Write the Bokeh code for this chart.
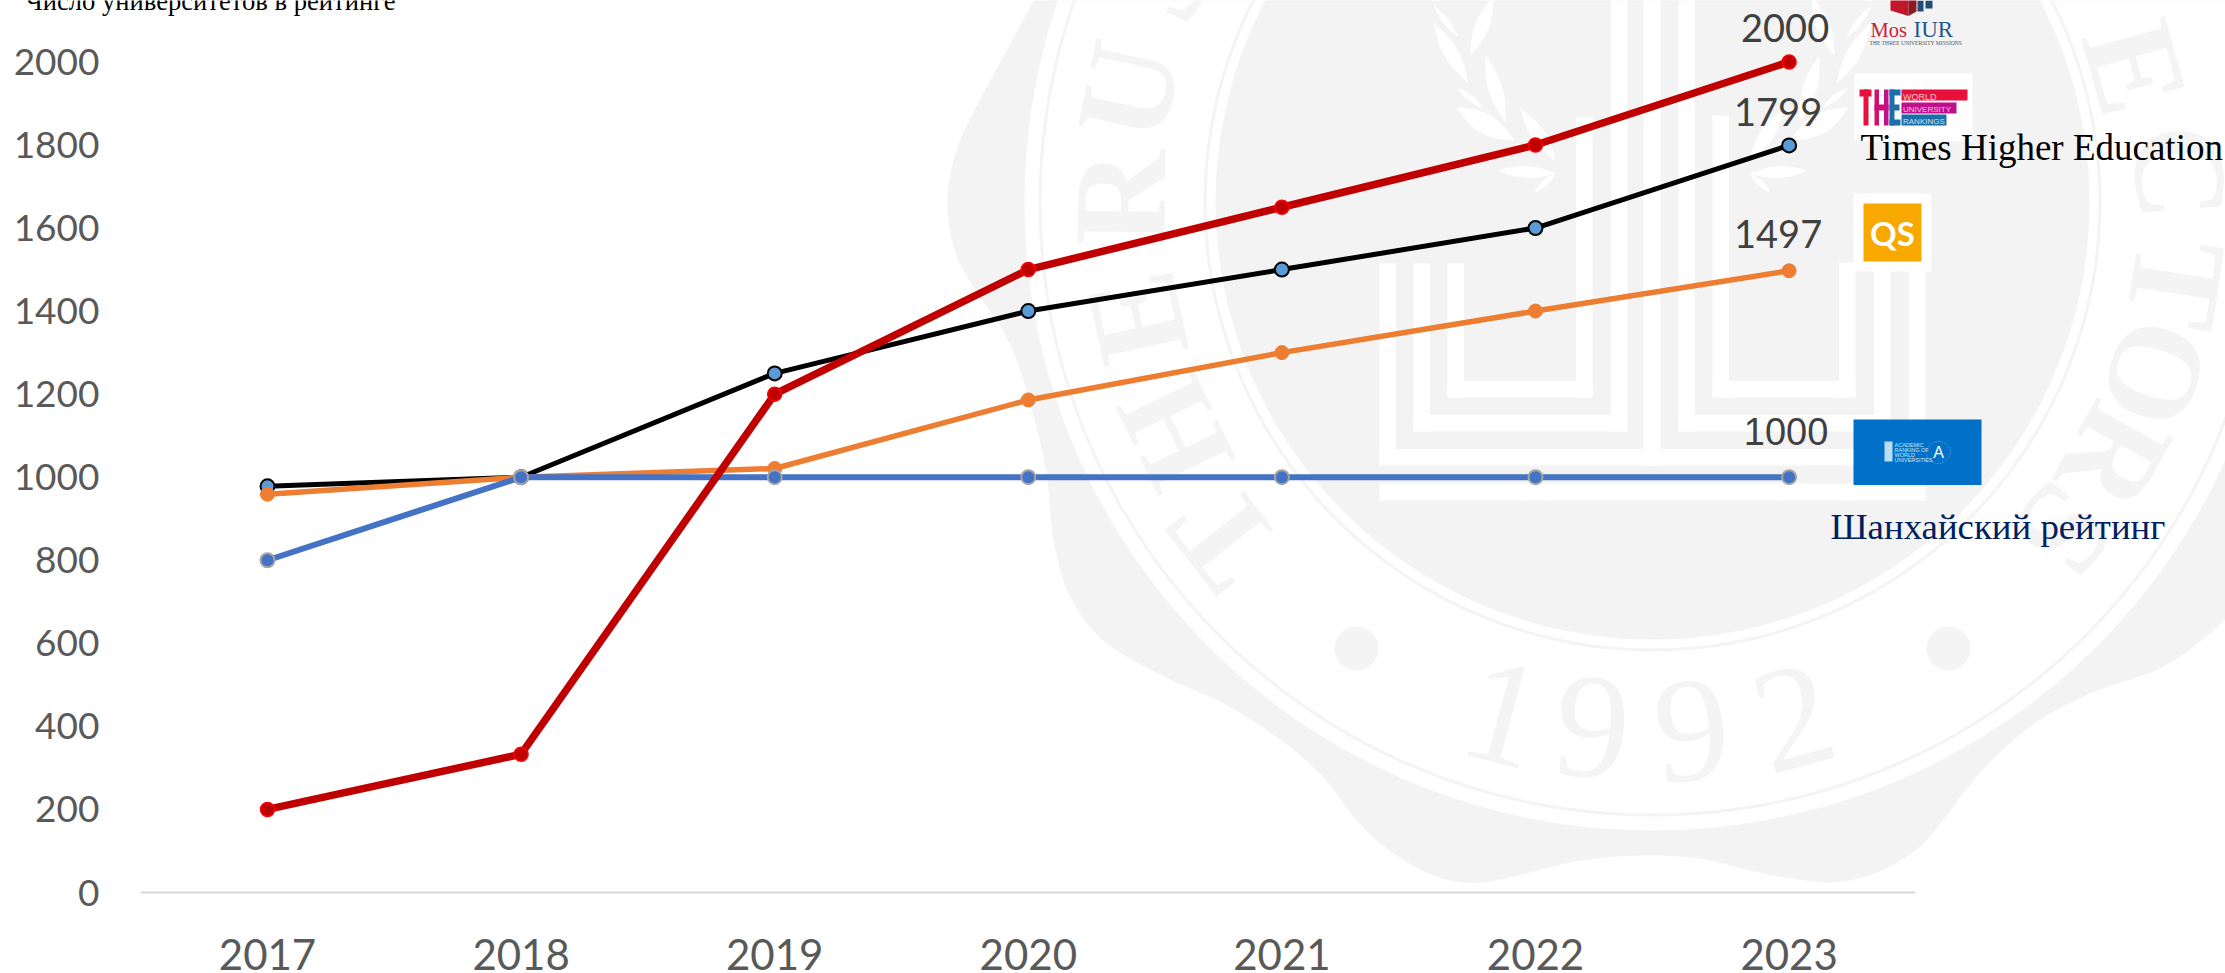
import math
from bokeh.plotting import figure
from bokeh.embed import file_html
from bokeh.resources import INLINE
from bokeh.core.properties import value
from bokeh.models import Range1d, FixedTicker, PolyAnnotation, BoxAnnotation, Label

# ---------- chart data ----------
years = [2017, 2018, 2019, 2020, 2021, 2022, 2023]
the_values = [978, 1000, 1250, 1400, 1500, 1600, 1799]
qs_values = [959, 1000, 1021, 1186, 1300, 1400, 1497]
arwu_values = [800, 1000, 1000, 1000, 1000, 1000, 1000]
mosiur_values = [200, 333, 1200, 1500, 1650, 1800, 2000]
y_ticks = [0, 200, 400, 600, 800, 1000, 1200, 1400, 1600, 1800, 2000]
axis_caption = "Число университетов в рейтинге"

W, H = 2225, 973
SANS = "Lato"
SERIF = "Liberation Serif"
NARROW = "Liberation Sans"
GREY = "#f3f3f3"

LEFT = 16
AXIS_Y = 892
YEAR_PX = 253.6
X0 = 267
x_lo = 2017 - (X0 - LEFT) / YEAR_PX
x_hi = 2017 + (W - X0) / YEAR_PX

p = figure(x_range=Range1d(x_lo, x_hi), y_range=Range1d(0, AXIS_Y / 0.41530),
           frame_width=W - LEFT, frame_height=AXIS_Y,
           min_border_left=LEFT, min_border_right=0,
           min_border_top=0, min_border_bottom=H - AXIS_Y,
           width=W, height=H, output_backend="svg", toolbar_location=None,
           outline_line_color=None, background_fill_color=None,
           border_fill_color="white")
p.grid.visible = False

xa, ya = p.xaxis[0], p.yaxis[0]
xa.ticker = FixedTicker(ticks=years)
xa.bounds = (2016.5, 2023.5)
xa.axis_line_color = "#d9d9d9"
xa.axis_line_width = 2
xa.major_tick_line_color = None
xa.minor_tick_line_color = None
xa.major_label_text_font = SANS
xa.major_label_text_font_size = "42px"
xa.major_label_text_color = "#595959"
xa.major_label_standoff = 40
ya.ticker = FixedTicker(ticks=y_ticks)
ya.axis_line_color = None
ya.major_tick_line_color = None
ya.minor_tick_line_color = None
ya.major_label_text_font = SANS
ya.major_label_text_font_size = "37px"
ya.major_label_text_color = "#595959"
ya.major_label_standoff = -89  # the labels sit inside the frame, as the seal and caption need it to span the page


# ---------- watermark and logo helpers (canvas pixels) ----------
def poly(pts, color=GREY, level="underlay", **kw):
    p.add_layout(PolyAnnotation(
        xs=[a for a, _ in pts], ys=[b for _, b in pts],
        xs_units="canvas", ys_units="canvas",
        fill_color=color, fill_alpha=kw.pop("fill_alpha", 1),
        line_color=kw.pop("line_color", None), level=level, editable=False, **kw))


def box(l, t, r, b, color="white", level="underlay"):
    p.add_layout(BoxAnnotation(
        left=l, right=r, top=t, bottom=b,
        left_units="canvas", right_units="canvas", top_units="canvas", bottom_units="canvas",
        fill_color=color, fill_alpha=1, line_color=None, level=level, editable=False))


def label(x, y, s, size, font=SERIF, color="black", align="left", base="alphabetic",
          style="normal", angle=0.0, level="annotation"):
    if base == "alphabetic":
        y -= 0.28 * size  # Label places this baseline below the given y
    p.add_layout(Label(x=x, y=y, x_units="canvas", y_units="canvas", text=s,
                       text_font=font, text_font_size=f"{size}px", text_color=color,
                       text_align=align, text_baseline=base, text_font_style=style,
                       angle=angle, angle_units="rad", level=level))


def smooth(pts, n=8):
    out = []
    for i in range(len(pts) - 1):
        p0, p1, p2, p3 = pts[max(i - 1, 0)], pts[i], pts[i + 1], pts[min(i + 2, len(pts) - 1)]
        for k in range(n):
            t = k / n
            f = lambda a, b, c, d: 0.5 * (2 * b + (c - a) * t + (2 * a - 5 * b + 4 * c - d) * t * t
                                          + (3 * b - a - 3 * c + d) * t ** 3)
            out.append((f(p0[0], p1[0], p2[0], p3[0]), f(p0[1], p1[1], p2[1], p3[1])))
    out.append(pts[-1])
    return out


def disk(cx, cy, r, color, ry=None):
    ry = ry or r
    poly([(cx + r * math.cos(i * math.pi / 90), cy + ry * math.sin(i * math.pi / 90))
          for i in range(180)], color)


def leaf(x0, y0, x1, y1, w, mirror=None):
    if mirror:
        x0, x1 = 2 * mirror - x0, 2 * mirror - x1
    dx, dy = x1 - x0, y1 - y0
    ln = math.hypot(dx, dy)
    nx, ny = -dy / ln, dx / ln
    pts = []
    for i in range(13):
        t = i / 12
        o = w / 2 * math.sin(math.pi * t)
        pts.append((x0 + dx * t + nx * o, y0 + dy * t + ny * o))
    for i in range(12, -1, -1):
        t = i / 12
        o = w / 2 * math.sin(math.pi * t)
        pts.append((x0 + dx * t - nx * o, y0 + dy * t - ny * o))
    poly(pts, "white")


# ---------- seal watermark ----------
blob = [(1033, -10), (1033, 0), (979, 100), (956, 150), (947, 200), (954, 250), (975, 290), (1004, 333),
        (1024, 383), (1045, 467), (1053, 540), (1070, 597), (1103, 640), (1157, 673), (1223, 703),
        (1277, 737), (1323, 777), (1356, 820), (1393, 853), (1439, 877), (1481, 882), (1526, 873),
        (1575, 861), (1637, 855), (1699, 858), (1749, 870), (1791, 878), (1832, 882), (1874, 873),
        (1915, 850), (1940, 823), (1965, 790), (1998, 753), (2043, 717), (2097, 690), (2155, 670),
        (2197, 643), (2240, 600), (2300, 500), (2300, -10)]
poly(smooth(blob))
CX, CY = 1652, 202
disk(CX, CY, 628, "white")
disk(CX, CY, 614, "#f4f4f4")
disk(CX, CY, 611, "white")

for ch, dx, dy in [("T", -429, 335), ("H", -478, 231), ("E", -516, 115), ("R", -532, -5),
                   ("U", -524, -112), ("S", -490, -225),
                   ("E", 483, -135), ("C", 528, -30), ("T", 524, 81), ("O", 503, 171),
                   ("R", 462, 255), ("S", 412, 328)]:
    theta = math.atan2(dx, -dy)
    label(CX + dx, CY + dy, ch, 132, color="#f4f4f4", align="center", base="middle",
          angle=-theta, level="underlay", style="bold")

for ch, x, y, deg in [("1", 1503, 713, -15), ("9", 1592, 727, -5), ("9", 1691, 730, 5), ("2", 1793, 717, 15)]:
    label(x, y, ch, 150, color="#f4f4f4", align="center", base="middle",
          angle=math.radians(deg), level="underlay")
disk(1356, 648, 22, "#f4f4f4")
disk(1948, 648, 22, "#f4f4f4")

disk(CX, CY, 449, "#f4f4f4")
disk(CX, CY, 446, "white")
disk(CX, CY, 437, GREY)

# meander in the middle of the seal
for l, r, tl, tr, bot in [(1447, 1592, 263, 117, 397), (1413, 1627, 263, 0, 431), (1379, 1660, 263, 0, 465),
                          (1712, 1855, 115, 262, 397), (1678, 1890, 0, 270, 431), (1643, 1925, 0, 270, 465)]:
    box(l, tl, l + 16.5, bot)
    box(r - 16.5, tr, r, bot)
    box(l, bot - 16.5, r, bot)
box(1379, 483, 1925, 500)

# laurel branches
for mirror in (None, CX):
    for a, b, c, d, w in [(1433, 22, 1468, 83, 14), (1493, -4, 1470, 55, 14), (1485, 55, 1505, 122, 14),
                          (1456, 107, 1514, 140, 20), (1520, 108, 1555, 160, 14), (1497, 170, 1555, 173, 12),
                          (1456, 87, 1483, 108, 6), (1534, 192, 1555, 173, 6), (1433, 5, 1458, 37, 6)]:
        leaf(a, b, c, d, w, mirror)

# ---------- series ----------
series = [(the_values, "black", 5, "#5b9bd5", "black", 2),
          (qs_values, "#ed7d31", 5.5, "#ed7d31", "#ed7d31", 1),
          (arwu_values, "#4472c4", 6, "#4472c4", "#a5a5a5", 2),
          (mosiur_values, "#c00000", 7.5, "#c00000", "#ff0000", 1.5)]
for vals, col, lw, fill, edge, ew in series:
    p.line(years, vals, line_color=col, line_width=lw)
    p.scatter(years, vals, size=14, fill_color=fill, line_color=edge, line_width=ew)

# ---------- end-of-line value labels ----------
for vals, dx, dy, font in [(mosiur_values, -4, -34, SANS), (the_values, -11, -33, SANS),
                           (qs_values, -11, -37, SANS), (arwu_values, -3, -46, "Liberation Sans")]:
    p.text([years[-1]], [vals[-1]], text=[str(vals[-1])], x_offset=dx, y_offset=dy,
           text_font=value(font), text_font_size="38px", text_color="#404040",
           text_align="center", text_baseline="middle")

# ---------- captions ----------
label(25, 8, axis_caption, 26.6)
label(1830, 536, "Шанхайский рейтинг", 36.8, color="#002060")

# MosIUR logo
poly([(1890, -2), (1890, 10), (1908, 15.5), (1908, -2)], "#c0182a", level="annotation")
poly([(1908, -2), (1908, 15.5), (1916, 11), (1916, -2)], "#8b1a24", level="annotation")
box(1917, 0, 1923, 11, "#1f4e79", "annotation")
box(1925, 0, 1932, 8, "#1f4e79", "annotation")
label(1870, 35, "Mos", 20.5, color="#c8203c")
label(1913, 35, "IUR", 23, color="#1f5a8c")
label(1869, 44, "THE THREE UNIVERSITY MISSIONS", 5.6, color="#555555")

# THE logo
box(1854, 73, 1972, 141, "white", "annotation")
THE_RED, THE_MAG, THE_BLUE = "#e8103c", "#c0108c", "#1a6fa8"
box(1901, 89, 1967, 100, THE_RED, "annotation")
box(1901, 102, 1956, 113, THE_MAG, "annotation")
box(1901, 114, 1946, 125, THE_BLUE, "annotation")
for l, t, r, b, c in [(1859, 89, 1871, 96, THE_RED), (1863, 89, 1868, 125, THE_RED),
                      (1874, 89, 1878.5, 125, "#d4106c"), (1883.5, 89, 1888, 125, "#c0108c"),
                      (1874, 104, 1888, 110, "#c8107c"),
                      (1889, 89, 1894, 125, THE_BLUE), (1889, 89, 1900, 95, THE_BLUE),
                      (1889, 104, 1899, 110, THE_BLUE), (1889, 119, 1900, 125, THE_BLUE)]:
    box(l, t, r, b, c, "annotation")
label(1902.5, 99, "WORLD", 9, font=NARROW, color="#f6c8d0")
label(1902.5, 111.5, "UNIVERSITY", 8, font=NARROW, color="#f0c8e4")
label(1902.5, 123.5, "RANKINGS", 8, font=NARROW, color="#cfe4f2")
label(1860, 157, "Times Higher Education", 37)

# QS logo
box(1853, 193, 1931, 271, "white", "annotation")
box(1863, 203, 1921, 261, "#f9a800", "annotation")
label(1892, 232, "QS", 33, font=SANS, color="white", align="center", base="middle", style="bold")

# Shanghai ranking logo
box(1853, 419, 1981, 484.5, "#0070c8", "annotation")
box(1884, 441, 1892, 461, "#bcdcf2", "annotation")
for yy, s in [(446, "ACADEMIC"), (451, "RANKING OF"), (456, "WORLD"), (461, "UNIVERSITIES")]:
    label(1894, yy, s, 5.5, font="Liberation Sans", color="#cfe6f6")
p.add_layout(PolyAnnotation(
    xs=[1938 + 12 * math.cos(i * math.pi / 30) for i in range(60)],
    ys=[452 + 11 * math.sin(i * math.pi / 30) for i in range(60)],
    xs_units="canvas", ys_units="canvas", fill_alpha=0, line_color="#cfe6f6",
    line_width=1, line_dash="2 1", editable=False))
label(1938, 452, "A", 16, font="Liberation Sans", color="white", align="center", base="middle")

open("out.html", "w").write(file_html(p, INLINE))
